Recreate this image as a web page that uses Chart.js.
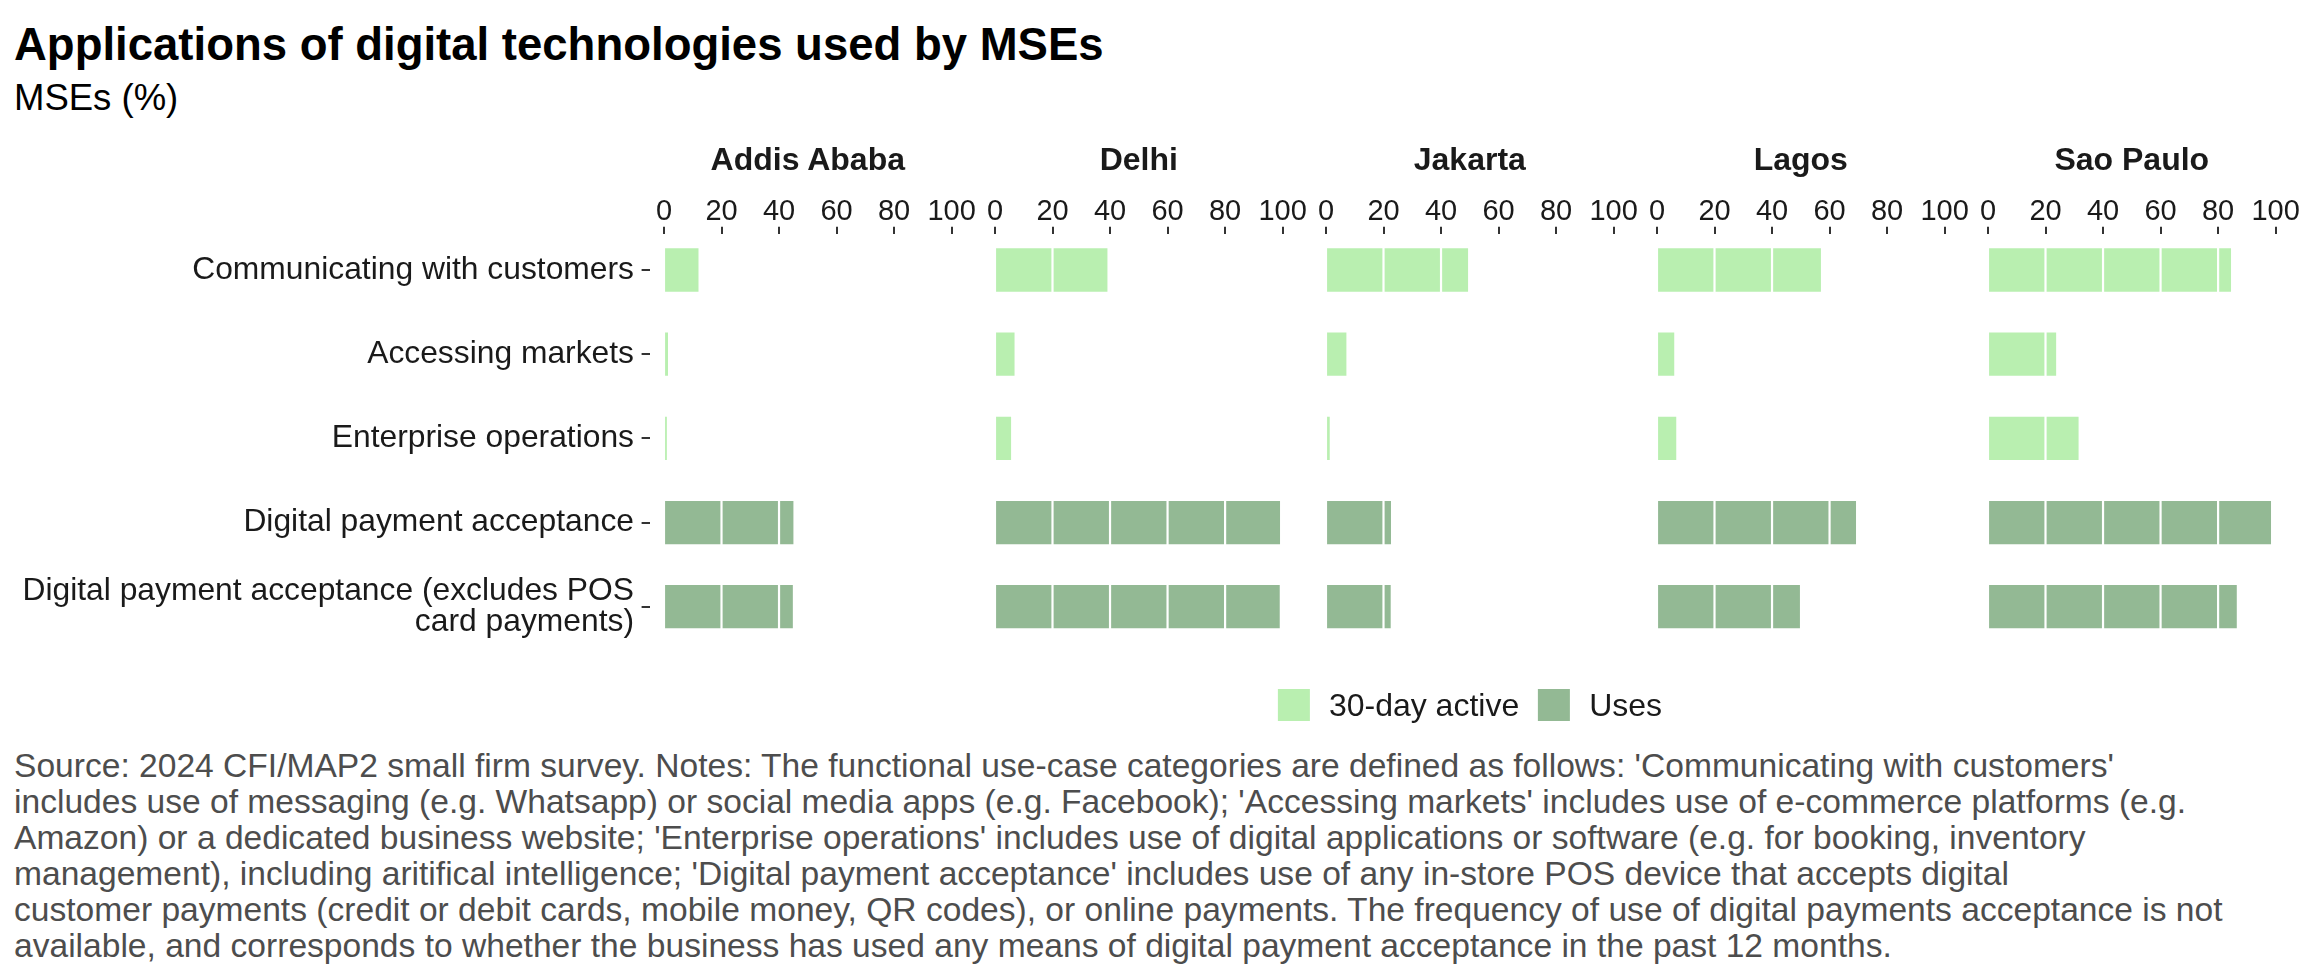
<!DOCTYPE html>
<html><head><meta charset="utf-8">
<script src="https://cdn.jsdelivr.net/npm/chart.js@4.4.1/dist/chart.umd.min.js"></script>
<style>
html,body{margin:0;padding:0;background:#fff;}
body{width:2304px;height:979px;position:relative;overflow:hidden;font-family:"Liberation Sans",Arial,sans-serif;}
.abs{position:absolute;white-space:nowrap;line-height:1;}
#title{left:14px;top:21.5px;font-size:45.5px;font-weight:bold;color:#000;}
#subtitle{left:14px;top:79.5px;font-size:36.5px;color:#000;}
.strip{top:143px;font-size:32px;font-weight:bold;color:#1a1a1a;transform:translateX(-50%);}
.panel{position:absolute;top:0;}
#legend{position:absolute;top:689px;left:1470px;transform:translateX(-50%);display:flex;align-items:center;white-space:nowrap;font-size:32px;line-height:1;color:#1a1a1a;}
#legend .key{width:32px;height:32px;margin-right:19px;}
#legend .lab{margin-right:19px;}
#caption{left:14px;top:748px;font-size:33.6px;line-height:36.1px;color:#4d4d4d;}
</style>
</head>
<body>
<div id="title" class="abs">Applications of digital technologies used by MSEs</div>
<div id="subtitle" class="abs">MSEs (%)</div>
<div id="panels"></div>
<div id="legend"></div>
<div id="caption" class="abs">Source: 2024 CFI/MAP2 small firm survey. Notes: The functional use-case categories are defined as follows: 'Communicating with customers'<br>includes use of messaging (e.g. Whatsapp) or social media apps (e.g. Facebook); 'Accessing markets' includes use of e-commerce platforms (e.g.<br>Amazon) or a dedicated business website; 'Enterprise operations' includes use of digital applications or software (e.g. for booking, inventory<br>management), including aritifical intelligence; 'Digital payment acceptance' includes use of any in-store POS device that accepts digital<br>customer payments (credit or debit cards, mobile money, QR codes), or online payments. The frequency of use of digital payments acceptance is not<br>available, and corresponds to whether the business has used any means of digital payment acceptance in the past 12 months.</div>
<script>
// ---- data ----
const cities = ['Addis Ababa', 'Delhi', 'Jakarta', 'Lagos', 'Sao Paulo'];
const categories = [
  'Communicating with customers',
  'Accessing markets',
  'Enterprise operations',
  'Digital payment acceptance',
  ['Digital payment acceptance (excludes POS', 'card payments)']
];
const seriesNames = ['30-day active', 'Uses'];
// 30-day active: communicating, accessing markets, enterprise operations (per city)
const active30Days = [
  [12.0, 1.4, 1.0],
  [39.1, 6.8, 5.6],
  [49.4, 7.1, 1.3],
  [57.0, 6.0, 6.7],
  [84.5, 23.7, 31.5]
];
// Uses: digital payment acceptance, excluding POS card payments (per city)
const usesValues = [
  [45.0, 44.8],
  [99.1, 99.0],
  [22.6, 22.5],
  [69.2, 49.7],
  [98.4, 86.5]
];
const xTickValues = [0, 20, 40, 60, 80, 100];

// ---- styling / layout ----
const COLORS = ['#B9EFB0', '#93B994'];
const FONT = '"Liberation Sans", Arial, sans-serif';
const PANEL_X0 = 649.6, PANEL_STEP = 331, PANEL_W = 316.4;
const AREA_TOP = 234.3, AREA_BOTTOM = 642.4, CANVAS_H = 680, SIDE = 30;

const whiteGrid = {
  id: 'whiteGrid',
  afterDatasetsDraw(chart) {
    const {ctx, chartArea, scales} = chart;
    const x = scales.x;
    ctx.save();
    ctx.strokeStyle = '#ffffff';
    ctx.lineWidth = 2.2;
    x.ticks.forEach(t => {
      const px = x.getPixelForValue(t.value);
      ctx.beginPath();
      ctx.moveTo(px, chartArea.top);
      ctx.lineTo(px, chartArea.bottom);
      ctx.stroke();
    });
    ctx.restore();
  }
};

const panels = document.getElementById('panels');
cities.forEach((city, i) => {
  const areaLeft = PANEL_X0 + PANEL_STEP * i;
  const left = i === 0 ? 0 : Math.floor(areaLeft - SIDE);
  const width = Math.ceil(areaLeft + PANEL_W + SIDE) - left;
  const padLeft = i === 0 ? 0 : areaLeft - left;
  const padRight = width - (areaLeft - left) - PANEL_W;

  const wrap = document.createElement('div');
  wrap.className = 'panel';
  wrap.style.left = left + 'px';
  wrap.style.width = width + 'px';
  wrap.style.height = CANVAS_H + 'px';
  const cv = document.createElement('canvas');
  cv.width = width; cv.height = CANVAS_H;
  cv.style.width = width + 'px'; cv.style.height = CANVAS_H + 'px';
  wrap.appendChild(cv);
  panels.appendChild(wrap);

  const strip = document.createElement('div');
  strip.className = 'abs strip';
  strip.style.left = (areaLeft + PANEL_W / 2) + 'px';
  strip.textContent = city;
  document.body.appendChild(strip);

  new Chart(cv, {
    type: 'bar',
    data: {
      datasets: [
        {
          label: seriesNames[0],
          data: active30Days[i].map((v, k) => ({x: v, y: k + 1})),
          backgroundColor: COLORS[0]
        },
        {
          label: seriesNames[1],
          data: usesValues[i].map((v, k) => ({x: v, y: k + 4})),
          backgroundColor: COLORS[1]
        }
      ]
    },
    options: {
      indexAxis: 'y',
      responsive: false,
      animation: false,
      devicePixelRatio: 1,
      layout: {padding: {left: padLeft, right: padRight, top: 0, bottom: CANVAS_H - AREA_BOTTOM}},
      plugins: {legend: {display: false}, tooltip: {enabled: false}},
      datasets: {bar: {grouped: false, barPercentage: 0.514, categoryPercentage: 1}},
      scales: {
        x: {
          type: 'linear',
          position: 'top',
          offset: false,
          min: -5, max: 105,
          afterBuildTicks: s => { s.ticks = xTickValues.map(v => ({value: v})); },
          afterFit: s => { s.height = AREA_TOP; },
          border: {display: false},
          grid: {offset: false, drawOnChartArea: false, drawTicks: true, tickLength: 7.6, color: '#333333', lineWidth: 2},
          ticks: {color: '#1a1a1a', padding: 0.5, maxRotation: 0, autoSkip: false,
                  font: {family: FONT, size: 29, lineHeight: 1}}
        },
        y: {
          type: 'linear',
          display: i === 0,
          reverse: true,
          offset: false,
          min: 0.576, max: 5.424,
          afterBuildTicks: s => { s.ticks = categories.map((c, k) => ({value: k + 1})); },
          afterFit: s => { if (i === 0) s.width = PANEL_X0; },
          border: {display: false},
          grid: {offset: false, drawOnChartArea: false, drawTicks: true, tickLength: 8, color: '#333333', lineWidth: 2},
          ticks: {color: '#1a1a1a', padding: 7.6, autoSkip: false,
                  callback: v => categories[Math.round(v) - 1],
                  font: {family: FONT, size: 31.8, lineHeight: 1}}
        }
      }
    },
    plugins: [whiteGrid]
  });
});

// legend
const legend = document.getElementById('legend');
seriesNames.forEach((name, k) => {
  const key = document.createElement('div');
  key.className = 'key';
  key.style.background = COLORS[k];
  const lab = document.createElement('div');
  lab.className = 'lab';
  lab.textContent = name;
  if (k === seriesNames.length - 1) lab.style.marginRight = '0';
  legend.appendChild(key);
  legend.appendChild(lab);
});
</script>
</body></html>
